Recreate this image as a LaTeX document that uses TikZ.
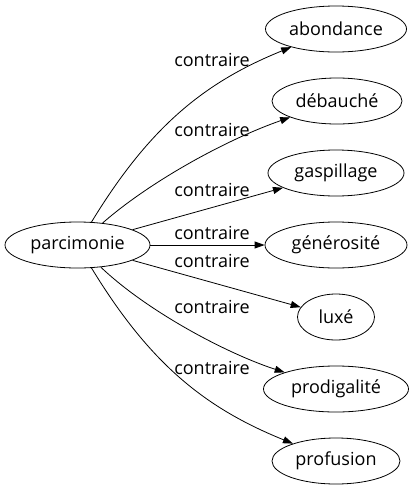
\documentclass[tikz,border=0pt]{standalone}
\usepackage{fontspec}
\setmainfont{Open Sans}
\usetikzlibrary{shapes.geometric,arrows.meta}
\begin{document}
\begin{tikzpicture}[x=1pt,y=-1pt,
  word/.style={ellipse,draw,line width=0.8pt,inner sep=0pt,minimum height=46pt,font=\fontsize{18}{20}\selectfont},
  rel/.style={font=\fontsize{18}{20}\selectfont,inner sep=0pt},
  link/.style={line width=0.8pt,-{Triangle[length=10pt,width=7pt]}}]
\useasboundingbox (0,0) rectangle (413,491);
\node[word,minimum width=145pt] (p) at (77.5,245) {parcimonie};
\node[word,minimum width=141pt] (a) at (336,29) {abondance};
\node[word,minimum width=130pt] (b) at (337,101) {débauché};
\node[word,minimum width=136pt] (c) at (336,173) {gaspillage};
\node[word,minimum width=142pt] (d) at (336,245) {générosité};
\node[word,minimum width=77pt] (e) at (336,317) {luxé};
\node[word,minimum width=145pt] (f) at (336,389) {prodigalité};
\node[word,minimum width=128pt] (g) at (336,461) {profusion};
\draw[link] (p) .. controls (150,126) and (205,82) .. (a);
\draw[link] (p) .. controls (150,181.5) and (226.5,139.5) .. (b);
\draw[link] (p) -- (c);
\draw[link] (p) -- (d);
\draw[link] (p) -- (e);
\draw[link] (p) .. controls (148,312) and (228,354) .. (f);
\draw[link] (p) .. controls (150,364) and (205,408) .. (g);
\node[rel] (l1) at (212,60) {contraire};
\node[rel] (l2) at (212,130) {contraire};
\node[rel] (l3) at (212,190) {contraire};
\node[rel] (l4) at (212,233) {contraire};
\node[rel] (l5) at (212,261) {contraire};
\node[rel] (l6) at (212,307) {contraire};
\node[rel] (l7) at (212,368) {contraire};
\end{tikzpicture}
\end{document}
